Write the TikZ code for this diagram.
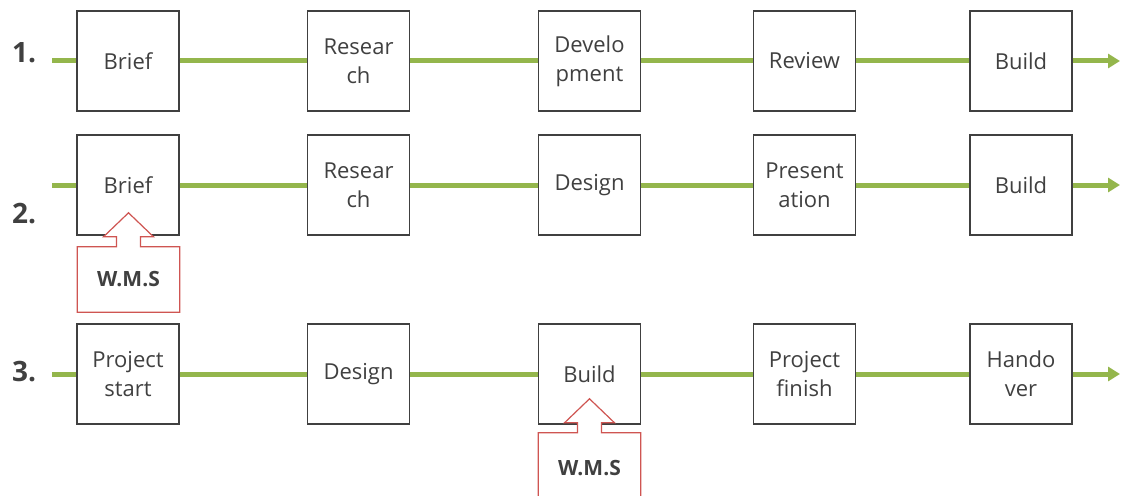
\documentclass[tikz,border=0pt]{standalone}
\usepackage{fontspec}
\setmainfont{Open Sans}
\usetikzlibrary{arrows.meta}
\definecolor{flowgreen}{HTML}{94B64C}
\definecolor{inkgray}{HTML}{404040}
\definecolor{callred}{HTML}{CF5552}
\pgfdeclarelayer{front}
\pgfsetlayers{main,front}

\begin{document}
\begin{tikzpicture}[x=1pt,y=-1pt,
  stagebox/.style={draw=inkgray, line width=1.2pt, fill=white,
    minimum width=102pt, minimum height=100pt, inner sep=0pt,
    align=center, text=inkgray, font=\fontsize{22}{29}\selectfont},
  flow/.style={draw=flowgreen, line width=5pt},
  flowend/.style={flow, -{Triangle[length=12pt,width=14pt]}},
  rowlabel/.style={font=\fontsize{28}{30}\selectfont\bfseries,
    text=inkgray, anchor=base west, inner sep=0pt},
  wmsbox/.style={minimum width=102pt, inner sep=0pt, text=inkgray,
    font=\fontsize{21}{26}\selectfont\bfseries},
  callout/.style={draw=callred, line width=1.2pt, fill=white}]

\clip (0,0) rectangle (1121,495);

% row labels
\node[rowlabel] (lab1) at (12,63) {1.};
\node[rowlabel] (lab2) at (12,223) {2.};
\node[rowlabel] (lab3) at (12,381) {3.};

% row 1
\coordinate (s1) at (52,61);
\coordinate (e1) at (1120,61);
\node[stagebox] (a1) at (128,61) {Brief};
\node[stagebox] (a2) at (358.5,61) {Resear\\ch};
\node[stagebox] (a3) at (589.5,61) {Develo\\pment};
\node[stagebox] (a4) at (804.5,61) {Review};
\node[stagebox] (a5) at (1021,61) {Build};
\draw[flow] (s1) -- (a1);
\draw[flow] (a1) -- (a2);
\draw[flow] (a2) -- (a3);
\draw[flow] (a3) -- (a4);
\draw[flow] (a4) -- (a5);
\draw[flowend] (a5) -- (e1);

% row 2
\coordinate (s2) at (52,185);
\coordinate (e2) at (1120,185);
\node[stagebox] (b1) at (128,185) {Brief};
\node[stagebox] (b2) at (358.5,185) {Resear\\ch};
\node[stagebox] (b3) at (589.5,185) {Design};
\node[stagebox] (b4) at (804.5,185) {Present\\ation};
\node[stagebox] (b5) at (1021,185) {Build};
\draw[flow] (s2) -- (b1);
\draw[flow] (b1) -- (b2);
\draw[flow] (b2) -- (b3);
\draw[flow] (b3) -- (b4);
\draw[flow] (b4) -- (b5);
\draw[flowend] (b5) -- (e2);

% row 3
\coordinate (s3) at (52,374);
\coordinate (e3) at (1120,374);
\node[stagebox] (c1) at (128,374) {Project\\start};
\node[stagebox] (c2) at (358.5,374) {Design};
\node[stagebox] (c3) at (589.5,374) {Build};
\node[stagebox] (c4) at (804.5,374) {Project\\finish};
\node[stagebox] (c5) at (1021,374) {Hando\\ver};
\draw[flow] (s3) -- (c1);
\draw[flow] (c1) -- (c2);
\draw[flow] (c2) -- (c3);
\draw[flow] (c3) -- (c4);
\draw[flow] (c4) -- (c5);
\draw[flowend] (c5) -- (e3);

% W.M.S up-arrow callouts
\begin{pgfonlayer}{front}
  \node[wmsbox, minimum height=65pt] (w2) at (128.5,279.5) {W.M.S};
  \node[wmsbox, minimum height=70pt] (w3) at (589.5,468) {W.M.S};
\end{pgfonlayer}
\foreach \w in {w2,w3}{
  \path[callout] (\w.south west) -- (\w.north west)
    -- ([xshift=-12pt]\w.north) -- ++(0,-10) -- ++(-13,0)
    -- ++(25,-24) -- ++(25,24) -- ++(-13,0) -- ++(0,10)
    -- (\w.north east) -- (\w.south east) -- cycle;
}
\end{tikzpicture}
\end{document}
